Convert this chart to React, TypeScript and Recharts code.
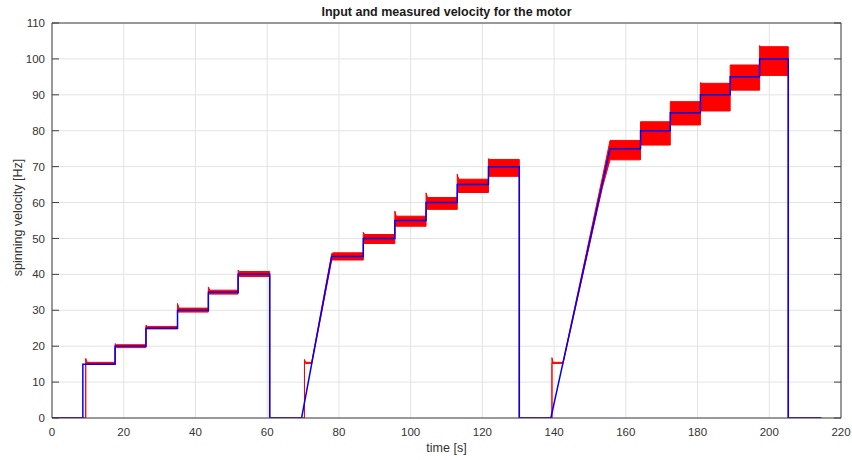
import { Area, CartesianGrid, ComposedChart, Label, Line, XAxis, YAxis } from "recharts";

// input (reference) velocity, step profile
const inputTime = [
  0, 8.6, 8.6, 17.6, 17.6, 26.2, 26.2, 35.0, 35.0, 43.6, 43.6, 51.9, 51.9, 60.7, 60.7,
  69.6, 78.0, 86.8, 86.8, 95.6, 95.6, 104.3, 104.3, 113.0, 113.0, 121.7, 121.7, 130.3, 130.3,
  139.1, 155.6, 164.1, 164.1, 172.4, 172.4, 180.8, 180.8, 189.1, 189.1, 197.3, 197.3, 205.3, 205.3,
  214.5,
];
const inputHz = [
  0, 0, 15, 15, 20, 20, 25, 25, 30, 30, 35, 35, 40, 40, 0,
  0, 45, 45, 50, 50, 55, 55, 60, 60, 65, 65, 70, 70, 0,
  0, 75, 75, 80, 80, 85, 85, 90, 90, 95, 95, 100, 100, 0,
  0,
];

// measured velocity, drawn as the min/max envelope of the noisy signal
const measTime = [
  0, 9.4, 9.4, 9.8, 17.6, 17.6, 18.0, 26.2, 26.2, 26.6, 35.0, 35.0, 35.4, 43.6, 43.6, 44.0,
  51.9, 51.9, 52.3, 60.7, 60.7,
  70.4, 70.4, 70.7, 72.4, 75.0, 78.0, 78.4, 86.8, 86.8, 87.2, 95.6, 95.6, 96.0, 104.3, 104.3,
  104.7, 113.0, 113.0, 113.4, 121.7, 121.7, 122.1, 130.3, 130.3,
  139.4, 139.4, 139.7, 142.5, 149.0, 153.5, 155.6, 164.1, 164.1, 172.4, 172.4, 180.8, 180.8,
  181.2, 189.1, 189.1, 197.3, 197.3, 197.7, 205.3, 205.3, 214.5,
];
const measLow = [
  0, 0, 15.0, 15.0, 15.0, 19.6, 19.6, 19.6, 24.8, 24.8, 24.8, 29.5, 29.5, 29.5, 34.5, 34.5,
  34.5, 39.4, 39.4, 39.4, 0,
  0, 15.2, 15.2, 15.2, 28.4, 44.0, 44.0, 44.0, 48.6, 48.6, 48.6, 53.4, 53.4, 53.4, 58.1,
  58.1, 58.1, 62.8, 62.8, 62.8, 67.3, 67.3, 67.3, 0,
  0, 15.2, 15.2, 15.2, 44.3, 64.3, 71.9, 71.9, 76.0, 76.0, 81.6, 81.6, 85.5,
  85.5, 85.5, 91.3, 91.3, 95.4, 95.4, 95.4, 0, 0,
];
const measHigh = [
  0, 0, 16.6, 15.5, 15.5, 20.7, 20.4, 20.4, 25.9, 25.5, 25.5, 31.9, 30.6, 30.6, 36.5, 35.6,
  35.6, 41.2, 40.8, 40.8, 0,
  0, 16.3, 15.5, 15.5, 29.6, 45.8, 46.0, 46.0, 51.7, 51.1, 51.1, 57.6, 56.2, 56.2, 62.7,
  61.4, 61.4, 67.9, 66.5, 66.5, 72.2, 72.0, 72.0, 0,
  0, 16.8, 15.5, 15.5, 46.0, 67.2, 77.3, 77.3, 82.5, 82.5, 88.1, 88.1, 93.4,
  93.2, 93.2, 98.3, 98.3, 103.7, 103.4, 103.4, 0, 0,
];

const xTicks = [0, 20, 40, 60, 80, 100, 120, 140, 160, 180, 200, 220];
const yTicks = [0, 10, 20, 30, 40, 50, 60, 70, 80, 90, 100, 110];

const inputData = inputTime.map((t, i) => ({ t, v: inputHz[i] }));
const measData = measTime.map((t, i) => ({ t, band: [measLow[i], measHigh[i]] }));

const font = "'Liberation Sans', Arial, Helvetica, sans-serif";
const tickStyle = { fill: "#333333", fontSize: 11.5, fontFamily: font };
const boxColor = "#404040";
const blank = () => "";

export default function App() {
  return (
    <div style={{ position: "absolute", left: 0, top: 0, width: 852, height: 460, background: "#fff" }}>
      <div
        style={{
          position: "absolute",
          left: 52,
          top: 5,
          width: 789,
          textAlign: "center",
          fontFamily: font,
          fontWeight: "bold",
          fontSize: 12.5,
          color: "#1a1a1a",
        }}
      >
        Input and measured velocity for the motor
      </div>
      <ComposedChart width={852} height={460} margin={{ top: 23, right: 11, bottom: 0, left: 0 }}>
        <CartesianGrid stroke="#e3e3e3" verticalValues={xTicks} horizontalValues={yTicks} />
        <XAxis
          dataKey="t"
          type="number"
          domain={[0, 220]}
          ticks={xTicks}
          allowDataOverflow
          height={42}
          axisLine={false}
          tickLine={false}
          tickSize={0}
          tickMargin={10}
          tick={tickStyle}
        >
          <Label
            value="time [s]"
            position="insideBottom"
            offset={8}
            style={{ fill: "#333333", fontSize: 12.5, fontFamily: font }}
          />
        </XAxis>
        <YAxis
          type="number"
          domain={[0, 110]}
          ticks={yTicks}
          allowDataOverflow
          width={52}
          axisLine={false}
          tickLine={false}
          tickSize={0}
          tickMargin={7}
          tick={tickStyle}
        >
          <Label
            content={({ viewBox }: any) => {
              const cx = viewBox.x + 18;
              const cy = viewBox.y + viewBox.height / 2 - 3;
              return (
                <text
                  x={cx}
                  y={cy}
                  dy="0.35em"
                  textAnchor="middle"
                  transform={`rotate(-90 ${cx} ${cy})`}
                  style={{ fill: "#333333", fontSize: 12.5, fontFamily: font }}
                >
                  spinning velocity [Hz]
                </text>
              );
            }}
          />
        </YAxis>
        {/* box with inward ticks */}
        <XAxis xAxisId="bt" orientation="bottom" type="number" domain={[0, 220]} ticks={xTicks} allowDataOverflow
          mirror tickSize={7} tickFormatter={blank} stroke={boxColor} />
        <XAxis xAxisId="tp" orientation="top" type="number" domain={[0, 220]} ticks={xTicks} allowDataOverflow
          mirror tickSize={7} tickFormatter={blank} stroke={boxColor} />
        <YAxis yAxisId="lt" orientation="left" type="number" domain={[0, 110]} ticks={yTicks} allowDataOverflow
          mirror tickSize={7} tickFormatter={blank} stroke={boxColor} />
        <YAxis yAxisId="rt" orientation="right" type="number" domain={[0, 110]} ticks={yTicks} allowDataOverflow
          mirror tickSize={7} tickFormatter={blank} stroke={boxColor} />
        <Area
          data={measData}
          dataKey="band"
          type="linear"
          stroke="#ff0000"
          strokeWidth={1}
          fill="#ff0000"
          fillOpacity={1}
          isAnimationActive={false}
        />
        <Line
          data={inputData}
          dataKey="v"
          type="linear"
          stroke="#0000ff"
          strokeWidth={1.5}
          dot={false}
          isAnimationActive={false}
        />
      </ComposedChart>
    </div>
  );
}
